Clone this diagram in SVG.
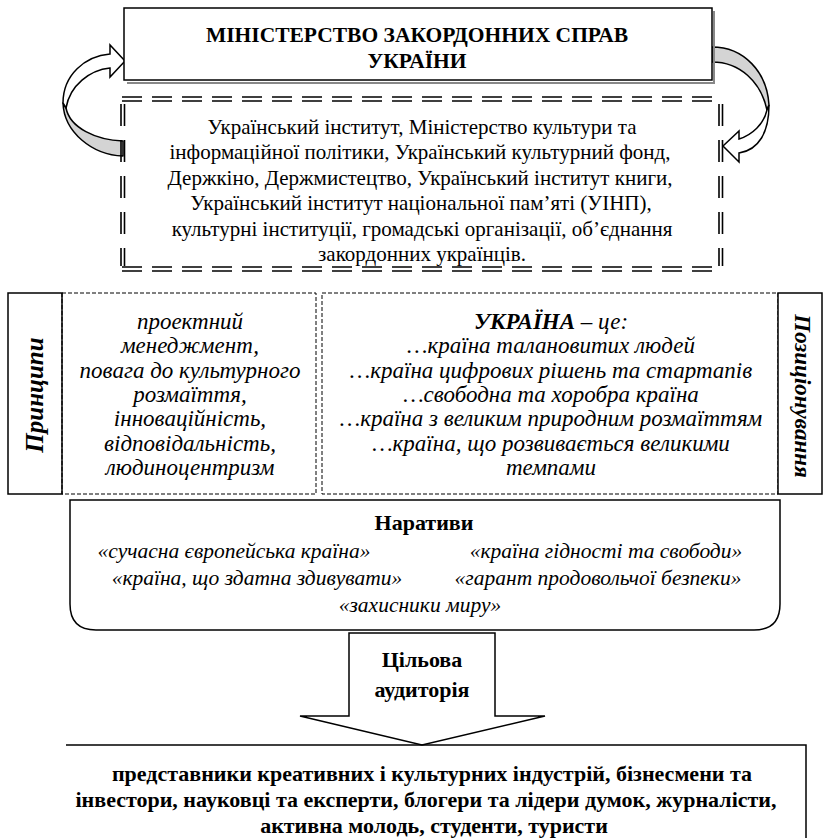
<svg xmlns="http://www.w3.org/2000/svg" width="828" height="838" viewBox="0 0 828 838" font-family="'Liberation Serif', serif">
<style>
text{font-family:"Liberation Serif","Times New Roman",serif;fill:#000;text-anchor:middle}
.b{font-weight:bold}
.i{font-style:italic}
.body{font-size:21px}
.it{font-size:23px;font-style:italic}
.nar{font-size:21.5px;font-style:italic}
.solid{fill:#fff;stroke:#000;stroke-width:1.5}
.dash{fill:none;stroke:#000;stroke-width:1;stroke-dasharray:4 2}
.dh{fill:none;stroke:#000;stroke-width:1.6;stroke-dasharray:20 10}
.dv{fill:none;stroke:#000;stroke-width:1.6;stroke-dasharray:22 14}
.gray{fill:#d4d4d4;stroke:#000;stroke-width:1.5;stroke-linejoin:round}
.white{fill:#fff;stroke:#000;stroke-width:1.5;stroke-linejoin:miter}
</style>
<rect width="828" height="838" fill="#fff"/>

<g id="connectors">
  <g id="arrow-left">
    <path class="gray" d="M63,103 C64,132 92,155 123,156 L123,141 C96,140 70,128 66,108 Z"/>
    <path class="white" d="M63,103 C63,75 85,56 110,54 L110,45 L125,61 L110,77 L110,68 C90,70 70,85 66,108 Z"/>
  </g>
  <g id="arrow-right">
    <path class="gray" d="M712,47 C744,47 767,72 769,105 L767,110 C761,82 740,62 712,62 Z"/>
    <path class="white" d="M769,105 C769,132 759,150 739,153 L739,162 L723,146 L739,131 L739,139 C752,135 764,124 767,110 Z"/>
  </g>
  <g id="arrow-down">
    <polygon class="solid" points="349,633 495,633 495,716 545,716 422,745 300,716 349,716"/>
    <text class="b" font-size="22" x="422" y="667">Цільова</text>
    <text class="b" font-size="22" x="422" y="697">аудиторія</text>
  </g>
</g>

<g id="mfa">
  <path d="M714,11 V83 H127" fill="none" stroke="#888" stroke-width="2"/>
  <rect class="solid" x="124" y="8" width="588" height="72"/>
  <text class="b" font-size="21.5" x="417" y="42">МІНІСТЕРСТВО ЗАКОРДОННИХ СПРАВ</text>
  <text class="b" font-size="21.5" x="417" y="68">УКРАЇНИ</text>
</g>

<g id="institutions">
  <path class="dh" d="M122,97 H722 M122,101 H722 M122,267 H722 M122,271 H722"/>
  <path class="dv" d="M121,104 V266 M124.5,104 V266 M719,104 V266 M722.5,104 V266"/>
  <g class="body">
    <text x="422" y="134">Український інститут, Міністерство культури та</text>
    <text x="420" y="159">інформаційної політики, Український культурний фонд,</text>
    <text x="420" y="185">Держкіно, Держмистецтво, Український інститут книги,</text>
    <text x="421" y="210">Український інститут національної пам’яті (УІНП),</text>
    <text x="422" y="236">культурні інституції, громадські організації, об’єднання</text>
    <text x="422" y="261">закордонних українців.</text>
  </g>
</g>

<g id="principles-label">
  <rect class="solid" x="8" y="293" width="54" height="201"/>
  <text class="b i" font-size="25" transform="translate(43,395) rotate(-90)">Принципи</text>
</g>

<g id="principles">
  <rect class="dash" x="62" y="293" width="254" height="201"/>
  <g class="it">
    <text x="190" y="329">проектний</text>
    <text x="190" y="353">менеджмент,</text>
    <text x="190" y="378">повага до культурного</text>
    <text x="190" y="402">розмаїття,</text>
    <text x="190" y="426">інноваційність,</text>
    <text x="190" y="451">відповідальність,</text>
    <text x="190" y="475">людиноцентризм</text>
  </g>
</g>

<g id="ukraine">
  <rect class="dash" x="322" y="293" width="456" height="201"/>
  <g class="it">
    <text x="551" y="329"><tspan class="b">УКРАЇНА</tspan> – це:</text>
    <text x="551" y="353">…країна талановитих людей</text>
    <text x="551" y="378">…країна цифрових рішень та стартапів</text>
    <text x="551" y="402">…свободна та хоробра країна</text>
    <text x="551" y="426">…країна з великим природним розмаїттям</text>
    <text x="551" y="451">…країна, що розвивається великими</text>
    <text x="551" y="475">темпами</text>
  </g>
</g>

<g id="positioning-label">
  <rect class="solid" x="778" y="293" width="44" height="201"/>
  <text class="b i" font-size="23" transform="translate(795,396) rotate(90)">Позиціонування</text>
</g>

<g id="narratives">
  <path class="solid" d="M70,500 H780 V604 Q780,630 754,630 H96 Q70,630 70,604 Z"/>
  <text class="b" font-size="22" x="424" y="530">Наративи</text>
  <g class="nar">
    <text x="234" y="558">«сучасна європейська країна»</text>
    <text x="606" y="558">«країна гідності та свободи»</text>
    <text x="257" y="585">«країна, що здатна здивувати»</text>
    <text x="598" y="585">«гарант продовольчої безпеки»</text>
    <text x="420" y="612">«захисники миру»</text>
  </g>
</g>

<g id="audience">
  <path d="M66,745 H806 V838" fill="none" stroke="#000" stroke-width="1.5"/>
  <g class="b" font-size="22">
    <text x="432" y="781">представники креативних і культурних індустрій, бізнесмени та</text>
    <text x="426" y="807">інвестори, науковці та експерти, блогери та лідери думок, журналісти,</text>
    <text x="434" y="833">активна молодь, студенти, туристи</text>
  </g>
</g>
</svg>
